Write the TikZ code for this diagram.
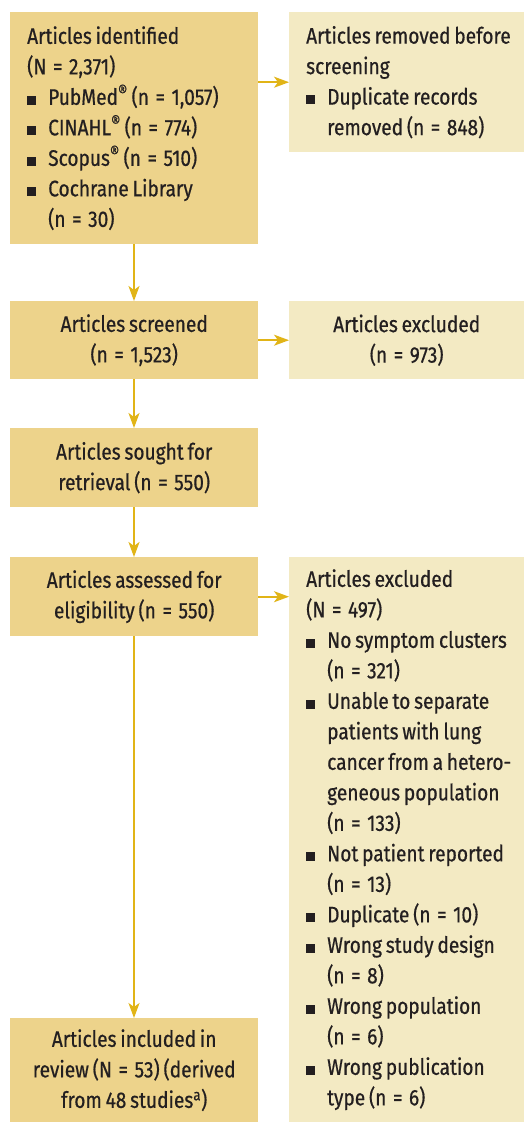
\documentclass[tikz,border=0pt]{standalone}
\usepackage{fontspec}
\setmainfont[FakeStretch=0.85,FakeBold=0.6,WordSpace=0.75]{Fira Sans}
\usetikzlibrary{arrows.meta}
\definecolor{dark}{HTML}{EDD38B}
\definecolor{light}{HTML}{F3EAC3}
\definecolor{gold}{HTML}{E1B417}
\definecolor{ink}{HTML}{231F20}
\newcommand\bul{\makebox[21pt][l]{\raisebox{0.3pt}{\rule{9pt}{9pt}}}}
\newcommand\ind{\hspace*{21pt}}
\newcommand\reg{\textsuperscript{\fontsize{17}{17}\selectfont\textregistered}}
\newcommand\eq{\kern6.5pt=\kern6.5pt}
\begin{document}
\begin{tikzpicture}[x=1pt,y=-1pt,
  box/.style={anchor=north west, inner sep=0pt, text=ink,
    font=\fontsize{22.5}{30.5}\selectfont},
  darkbox/.style={box, fill=dark, minimum width=248pt},
  lightbox/.style={box, fill=light, minimum width=235pt},
  leftt/.style={align=left},
  arr/.style={draw=gold, line width=1.6pt, -{Stealth[length=15pt,width=11pt,inset=4pt]}}
]
\useasboundingbox (0,0) rectangle (524,1122);
\fill[white] (0,0) rectangle (524,1122);

\node[darkbox, minimum height=232pt] (n1) at (10,12) {};
\node[box, leftt, anchor=west] (t1) at ([xshift=17pt]n1.west) {Articles identified\\(N\eq2,371)\\
\bul PubMed\reg{} (n\eq1,057)\\
\bul CINAHL\reg{} (n\eq774)\\
\bul Scopus\reg{} (n\eq510)\\
\bul Cochrane Library\\
\ind (n\eq30)};

\node[lightbox, minimum height=140pt] (n2) at (289,12) {};
\node[box, leftt, anchor=west] (t2) at ([xshift=17pt]n2.west) {Articles removed before\\screening\\
\bul Duplicate records\\
\ind removed (n\eq848)};

\node[darkbox, minimum height=78pt, align=center] (n3) at (10,301) {Articles screened\\(n\eq1,523)};
\node[lightbox, minimum height=78pt, align=center] (n4) at (289,301) {Articles excluded\\(n\eq973)};
\node[darkbox, minimum height=79pt, align=center] (n5) at (10,428) {Articles sought for\\retrieval (n\eq550)};
\node[darkbox, minimum height=79pt, align=center] (n6) at (10,557) {Articles assessed for\\eligibility (n\eq550)};

\node[lightbox, minimum height=565pt] (n7) at (289,557) {};
\node[box, leftt, anchor=west] (t7) at ([xshift=17pt]n7.west) {Articles excluded\\(N\eq497)\\
\bul No symptom clusters\\
\ind (n\eq321)\\
\bul Unable to separate\\
\ind patients with lung\\
\ind cancer from a hetero-\\
\ind geneous population\\
\ind (n\eq133)\\
\bul Not patient reported\\
\ind (n\eq13)\\
\bul Duplicate (n\eq10)\\
\bul Wrong study design\\
\ind (n\eq8)\\
\bul Wrong population\\
\ind (n\eq6)\\
\bul Wrong publication\\
\ind type (n\eq6)};

\node[darkbox, minimum height=104pt, align=center] (n8) at (10,1018) {Articles included in\\review (N\eq53) (derived\\from 48 studies\textsuperscript{a})};

\draw[arr] (n1.east |- n2.west) -- (n2.west);
\draw[arr] (n3.east) -- (n4.west);
\draw[arr] (n6.east) -- (n6.east -| n7.west);
\draw[arr] (n1.south -| 134,0) -- (n3.north -| 134,0);
\draw[arr] (n3.south -| 134,0) -- (n5.north -| 134,0);
\draw[arr] (n5.south -| 134,0) -- (n6.north -| 134,0);
\draw[arr] (n6.south -| 134,0) -- (n8.north -| 134,0);
\end{tikzpicture}
\end{document}
